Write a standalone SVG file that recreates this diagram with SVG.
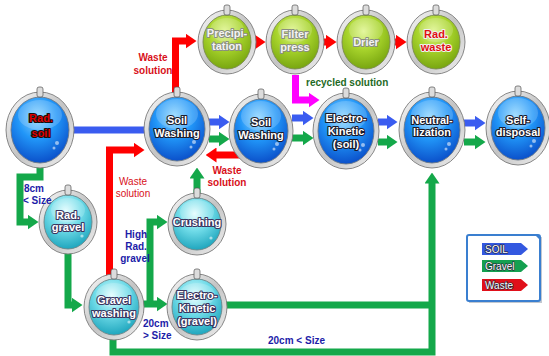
<svg xmlns="http://www.w3.org/2000/svg" width="549" height="356" viewBox="0 0 549 356">
<defs>
<radialGradient id="gBlue" cx="0.45" cy="0.3" r="0.75"><stop offset="0" stop-color="#8fd6ff"/><stop offset="0.45" stop-color="#2196f8"/><stop offset="1" stop-color="#0847c4"/></radialGradient>
<radialGradient id="gCyan" cx="0.45" cy="0.3" r="0.75"><stop offset="0" stop-color="#e2fdff"/><stop offset="0.45" stop-color="#6fdbe8"/><stop offset="1" stop-color="#159fb8"/></radialGradient>
<radialGradient id="gGreen" cx="0.45" cy="0.3" r="0.75"><stop offset="0" stop-color="#def58a"/><stop offset="0.45" stop-color="#a8d42c"/><stop offset="1" stop-color="#72a00c"/></radialGradient>
<linearGradient id="gRing" x1="0" y1="0" x2="1" y2="1"><stop offset="0" stop-color="#fbfbfb"/><stop offset="0.5" stop-color="#c4c4c4"/><stop offset="1" stop-color="#f0f0f0"/></linearGradient>
<marker id="mB" viewBox="0 0 11 15" refX="0.5" refY="7.5" markerWidth="11" markerHeight="15" markerUnits="userSpaceOnUse" orient="auto"><path d="M0,0L11,7.5L0,15z" fill="#3a5cf0"/></marker>
<marker id="mG" viewBox="0 0 11 15" refX="0.5" refY="7.5" markerWidth="11" markerHeight="15" markerUnits="userSpaceOnUse" orient="auto"><path d="M0,0L11,7.5L0,15z" fill="#14a84a"/></marker>
<marker id="mR" viewBox="0 0 11 15" refX="0.5" refY="7.5" markerWidth="11" markerHeight="15" markerUnits="userSpaceOnUse" orient="auto"><path d="M0,0L11,7.5L0,15z" fill="#ff0000"/></marker>
<marker id="mM" viewBox="0 0 11 15" refX="0.5" refY="7.5" markerWidth="11" markerHeight="15" markerUnits="userSpaceOnUse" orient="auto"><path d="M0,0L11,7.5L0,15z" fill="#ff00ff"/></marker>
</defs>
<style>
.ring{fill:url(#gRing);stroke:#7a7a7a;stroke-width:0.9}
.blue{fill:url(#gBlue);stroke:#6a7888;stroke-width:0.9}
.cyan{fill:url(#gCyan);stroke:#6a8488;stroke-width:0.9}
.green{fill:url(#gGreen);stroke:#7a8a50;stroke-width:0.9}
.gloss{fill:#ffffff;opacity:0.18}
.dot{fill:#ffffff;opacity:0.55}
.hook{fill:#dcdcdc;stroke:#555;stroke-width:0.7}
.nt{font-family:"Liberation Sans Narrow","Liberation Sans",Arial,sans-serif;font-weight:bold;font-size:11px;text-anchor:middle;paint-order:stroke;stroke-linejoin:round}
.tb{fill:#ffffff;stroke:#1a1a2a;stroke-width:2.2}
.tc{fill:#ffffff;stroke:#3a3560;stroke-width:2.2}
.tg{fill:#f4f4f4;stroke:#8a8f80;stroke-width:2}
.tr{fill:#e00000;stroke:#111;stroke-width:2.2}
.trw{fill:#e01010;stroke:#f0f0f0;stroke-width:2}
.lb{font-family:"Liberation Sans Narrow","Liberation Sans",Arial,sans-serif;font-weight:bold;font-size:10px}
.red{fill:#d8101a}
.navy{fill:#1c1ca8}
.dg{fill:#1f6a1f}
.ln{fill:none;stroke-width:7;stroke-linejoin:miter}
.sB{stroke:#3a5cf0}.sG{stroke:#14a84a}.sR{stroke:#ff0000}.sM{stroke:#ff00ff}
.leg{font-family:"Liberation Sans Narrow","Liberation Sans",Arial,sans-serif;font-size:10px;fill:#fff;paint-order:stroke;stroke:#223;stroke-width:1.2}
</style>

<g id="connectors">
<path class="ln sB" d="M72,130H146"/>
<path class="ln sB" d="M209,122H219" marker-end="url(#mB)"/>
<path class="ln sG" d="M209,139H219" marker-end="url(#mG)"/>
<path class="ln sR" d="M240,155H216" marker-end="url(#mR)"/>
<path class="ln sB" d="M292,118H303" marker-end="url(#mB)"/>
<path class="ln sG" d="M292,138H303" marker-end="url(#mG)"/>
<path class="ln sB" d="M378,122H387" marker-end="url(#mB)"/>
<path class="ln sG" d="M378,142H387" marker-end="url(#mG)"/>
<path class="ln sB" d="M464,123H475" marker-end="url(#mB)"/>
<path class="ln sG" d="M464,142H475" marker-end="url(#mG)"/>
<path class="ln sR" d="M175.5,94V41H186" marker-end="url(#mR)"/>
<path class="ln sR" d="M253,42H255" marker-end="url(#mR)"/>
<path class="ln sR" d="M323,42H326" marker-end="url(#mR)"/>
<path class="ln sR" d="M393,42H396" marker-end="url(#mR)"/>
<path class="ln sM" d="M295.5,75V100H309" marker-end="url(#mM)"/>
<path class="ln sR" d="M109.5,277V150H134" marker-end="url(#mR)"/>
<path class="ln sG" d="M197,193V178" marker-end="url(#mG)"/>
<path class="ln sG" d="M40,166V177H20V222H28" marker-end="url(#mG)"/>
<path class="ln sG" d="M68,253V305H72" marker-end="url(#mG)"/>
<path class="ln sG" d="M142,304H157" marker-end="url(#mG)"/>
<path class="ln sG" d="M150,304V222H157" marker-end="url(#mG)"/>
<path class="ln sG" d="M226,305H432"/>
<path class="ln sG" d="M113,339V352H432V183" marker-end="url(#mG)"/>
</g>

<g id="rad-soil">
<ellipse class="ring" cx="40" cy="130" rx="34" ry="38"/><ellipse class="blue" cx="40" cy="130" rx="29" ry="33"/>
<ellipse class="gloss" cx="40" cy="115" rx="22" ry="15"/><circle class="dot" cx="57" cy="143" r="2"/><circle class="dot" cx="54" cy="148" r="1.5"/>
<rect class="hook" x="37" y="87" width="6" height="10" rx="2"/>
<text class="nt tr" x="41" y="122">Rad.</text><text class="nt tr" x="41" y="137">soil</text>
</g>
<g id="soil-washing-1">
<ellipse class="ring" cx="177" cy="129" rx="33" ry="37"/><ellipse class="blue" cx="177" cy="129" rx="28" ry="32"/>
<ellipse class="gloss" cx="177" cy="114" rx="21" ry="15"/><circle class="dot" cx="194" cy="142" r="2"/><circle class="dot" cx="191" cy="147" r="1.5"/>
<rect class="hook" x="174" y="87" width="6" height="10" rx="2"/>
<text class="nt tb" x="177" y="124">Soil</text><text class="nt tb" x="177" y="137">Washing</text>
</g>
<g id="soil-washing-2">
<ellipse class="ring" cx="261" cy="131" rx="32" ry="37"/><ellipse class="blue" cx="261" cy="131" rx="27" ry="32"/>
<ellipse class="gloss" cx="261" cy="116" rx="20" ry="15"/><circle class="dot" cx="277" cy="144" r="2"/><circle class="dot" cx="274" cy="149" r="1.5"/>
<rect class="hook" x="258" y="89" width="6" height="10" rx="2"/>
<text class="nt tb" x="261" y="126">Soil</text><text class="nt tb" x="261" y="139">Washing</text>
</g>
<g id="electro-kinetic-soil">
<ellipse class="ring" cx="346" cy="131" rx="33" ry="38"/><ellipse class="blue" cx="346" cy="131" rx="28" ry="33"/>
<ellipse class="gloss" cx="346" cy="116" rx="21" ry="15"/><circle class="dot" cx="363" cy="145" r="2"/><circle class="dot" cx="360" cy="150" r="1.5"/>
<rect class="hook" x="343" y="88" width="6" height="10" rx="2"/>
<text class="nt tb" x="346" y="122">Electro-</text><text class="nt tb" x="346" y="135">Kinetic</text><text class="nt tb" x="346" y="148">(soil)</text>
</g>
<g id="neutralization">
<ellipse class="ring" cx="432" cy="130" rx="33" ry="38"/><ellipse class="blue" cx="432" cy="130" rx="28" ry="33"/>
<ellipse class="gloss" cx="432" cy="115" rx="21" ry="15"/><circle class="dot" cx="449" cy="144" r="2"/><circle class="dot" cx="446" cy="149" r="1.5"/>
<rect class="hook" x="429" y="87" width="6" height="10" rx="2"/>
<text class="nt tb" x="432" y="124">Neutral-</text><text class="nt tb" x="432" y="136">lization</text>
</g>
<g id="self-disposal">
<ellipse class="ring" cx="518" cy="128" rx="32" ry="37"/><ellipse class="blue" cx="518" cy="128" rx="27" ry="32"/>
<ellipse class="gloss" cx="518" cy="113" rx="20" ry="15"/><circle class="dot" cx="534" cy="141" r="2"/><circle class="dot" cx="531" cy="146" r="1.5"/>
<rect class="hook" x="515" y="86" width="6" height="10" rx="2"/>
<text class="nt tb" x="518" y="124">Self-</text><text class="nt tb" x="518" y="136">disposal</text>
</g>

<g id="precipitation">
<ellipse class="ring" cx="227" cy="42" rx="29" ry="32"/><ellipse class="green" cx="227" cy="42" rx="24" ry="27"/>
<ellipse class="gloss" cx="227" cy="30" rx="17" ry="12"/>
<rect class="hook" x="224" y="5" width="6" height="10" rx="2"/>
<text class="nt tg" x="227" y="37">Precipi-</text><text class="nt tg" x="227" y="50">tation</text>
</g>
<g id="filter-press">
<ellipse class="ring" cx="295" cy="42" rx="29" ry="32"/><ellipse class="green" cx="295" cy="42" rx="24" ry="27"/>
<ellipse class="gloss" cx="295" cy="30" rx="17" ry="12"/>
<rect class="hook" x="292" y="5" width="6" height="10" rx="2"/>
<text class="nt tg" x="295" y="38">Filter</text><text class="nt tg" x="295" y="51">press</text>
</g>
<g id="drier">
<ellipse class="ring" cx="366" cy="42" rx="29" ry="32"/><ellipse class="green" cx="366" cy="42" rx="24" ry="27"/>
<ellipse class="gloss" cx="366" cy="30" rx="17" ry="12"/>
<rect class="hook" x="363" y="5" width="6" height="10" rx="2"/>
<text class="nt tg" x="366" y="46">Drier</text>
</g>
<g id="rad-waste">
<ellipse class="ring" cx="436" cy="42" rx="29" ry="32"/><ellipse class="green" cx="436" cy="42" rx="24" ry="27"/>
<ellipse class="gloss" cx="436" cy="30" rx="17" ry="12"/>
<rect class="hook" x="433" y="5" width="6" height="10" rx="2"/>
<text class="nt trw" x="436" y="38">Rad.</text><text class="nt trw" x="436" y="51">waste</text>
</g>

<g id="rad-gravel">
<ellipse class="ring" cx="68" cy="222" rx="29" ry="32"/><ellipse class="cyan" cx="68" cy="222" rx="24" ry="27"/>
<ellipse class="gloss" cx="68" cy="210" rx="17" ry="12"/><circle class="dot" cx="82" cy="236" r="1.6"/>
<rect class="hook" x="65" y="185" width="6" height="10" rx="2"/>
<text class="nt tc" x="68" y="219">Rad.</text><text class="nt tc" x="68" y="231">gravel</text>
</g>
<g id="crushing">
<ellipse class="ring" cx="197" cy="224" rx="29" ry="31"/><ellipse class="cyan" cx="197" cy="224" rx="24" ry="26"/>
<ellipse class="gloss" cx="197" cy="212" rx="17" ry="12"/><circle class="dot" cx="211" cy="238" r="1.6"/>
<rect class="hook" x="194" y="188" width="6" height="10" rx="2"/>
<text class="nt tc" x="197" y="226">Crushing</text>
</g>
<g id="gravel-washing">
<ellipse class="ring" cx="114" cy="307" rx="30" ry="33"/><ellipse class="cyan" cx="114" cy="307" rx="25" ry="28"/>
<ellipse class="gloss" cx="114" cy="295" rx="18" ry="12"/><circle class="dot" cx="129" cy="322" r="1.6"/>
<rect class="hook" x="111" y="269" width="6" height="10" rx="2"/>
<text class="nt tc" x="114" y="304">Gravel</text><text class="nt tc" x="114" y="317">washing</text>
</g>
<g id="electro-kinetic-gravel">
<ellipse class="ring" cx="197" cy="307" rx="30" ry="33"/><ellipse class="cyan" cx="197" cy="307" rx="25" ry="28"/>
<ellipse class="gloss" cx="197" cy="295" rx="18" ry="12"/>
<rect class="hook" x="194" y="269" width="6" height="10" rx="2"/>
<text class="nt tc" x="197" y="299">Electro-</text><text class="nt tc" x="197" y="312">Kinetic</text><text class="nt tc" x="197" y="325">(gravel)</text>
</g>

<g id="labels">
<text class="lb red" x="153" y="61" text-anchor="middle">Waste</text>
<text class="lb red" x="153" y="74" text-anchor="middle">solution</text>
<text class="lb red" x="227" y="174" text-anchor="middle">Waste</text>
<text class="lb red" x="227" y="186" text-anchor="middle">solution</text>
<text x="133" y="185" text-anchor="middle" font-family="Liberation Sans Narrow,Liberation Sans,Arial,sans-serif" font-size="10" fill="#d8101a">Waste</text>
<text x="133" y="197" text-anchor="middle" font-family="Liberation Sans Narrow,Liberation Sans,Arial,sans-serif" font-size="10" fill="#d8101a">solution</text>
<text class="lb dg" x="306" y="86">recycled solution</text>
<text class="lb navy" x="24" y="192">8cm</text>
<text class="lb navy" x="23" y="204">&lt; Size</text>
<text class="lb navy" x="136" y="238" text-anchor="middle">High</text>
<text class="lb navy" x="136" y="250" text-anchor="middle">Rad.</text>
<text class="lb navy" x="135" y="262" text-anchor="middle">gravel</text>
<text class="lb navy" x="143" y="327">20cm</text>
<text class="lb navy" x="143" y="339">&gt; Size</text>
<text class="lb navy" x="268" y="344">20cm &lt; Size</text>
</g>

<g id="legend">
<rect x="469" y="237" width="73" height="66" fill="#9aa4b0" opacity="0.6"/>
<rect x="467" y="235" width="73" height="66" rx="2" fill="#ffffff" stroke="#3a7fd0" stroke-width="2"/>
<path d="M535,235L540,235L540,240z" fill="#3a7fd0"/>
<path d="M482,243H521L528,249L521,255H482z" fill="#3358e0"/>
<path d="M482,260H521L528,266L521,272H482z" fill="#14a050"/>
<path d="M482,279H521L528,285L521,291H482z" fill="#e0101a"/>
<text class="leg" x="485" y="253">SOIL</text>
<text class="leg" x="485" y="270">Gravel</text>
<text class="leg" x="485" y="289">Waste</text>
</g>
</svg>
